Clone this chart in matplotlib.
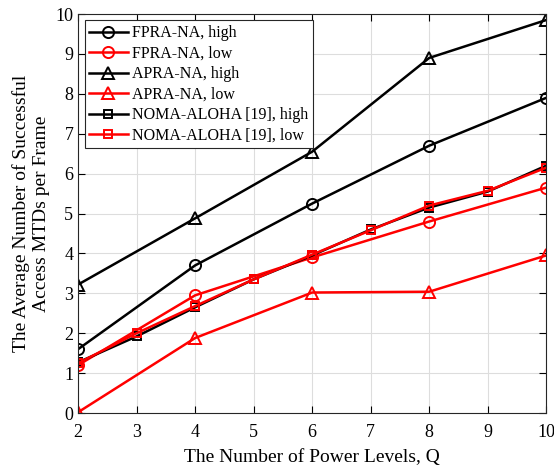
import matplotlib.pyplot as plt

plt.rcParams['font.family'] = ['Liberation Serif', 'DejaVu Serif']

q_even = [2, 4, 6, 8, 10]
q_all = [2, 3, 4, 5, 6, 7, 8, 9, 10]

fpra_high = [1.60, 3.70, 5.25, 6.70, 7.90]
fpra_low = [1.20, 2.95, 3.90, 4.80, 5.65]
apra_high = [3.22, 4.88, 6.55, 8.90, 9.85]
apra_low = [0.02, 1.88, 3.02, 3.04, 3.95]
noma_high = [1.27, 1.92, 2.65, 3.35, 3.95, 4.60, 5.15, 5.55, 6.20]
noma_low = [1.25, 2.00, 2.68, 3.35, 3.97, 4.58, 5.20, 5.57, 6.15]

fig = plt.figure(figsize=(5.54, 4.68), dpi=100)
ax = fig.add_axes([0.141, 0.1175, 0.845, 0.8525])

kw = dict(lw=1.8, ms=8, mfc='none', mew=1.4)
ax.plot(q_even, fpra_high, color='black', marker='o', label='FPRA-NA, high', **kw)
ax.plot(q_even, fpra_low, color='red', marker='o', label='FPRA-NA, low', **kw)
ax.plot(q_even, apra_high, color='black', marker='^', label='APRA-NA, high', **kw)
ax.plot(q_even, apra_low, color='red', marker='^', label='APRA-NA, low', **kw)
ax.plot(q_all, noma_high, color='black', marker='s', label='NOMA-ALOHA [19], high',
        lw=1.8, ms=6, mfc='none', mew=1.4)
ax.plot(q_all, noma_low, color='red', marker='s', label='NOMA-ALOHA [19], low',
        lw=1.8, ms=6, mfc='none', mew=1.4)

ax.set_xlim(2, 10)
ax.set_ylim(0, 10)
ax.set_xticks(q_all)
ax.set_yticks(range(0, 11))
ax.grid(True, color='#dddddd', lw=0.8)
ax.set_axisbelow(True)
ax.tick_params(direction='in', top=True, right=True, labelsize=13, length=5)
ax.tick_params(axis='x', pad=8)
for s in ax.spines.values():
    s.set_color('#262626')
    s.set_linewidth(0.8)

ax.set_xlabel('The Number of Power Levels, Q', fontsize=14, labelpad=6)
ax.set_ylabel('The Average Number of Successful\nAccess MTDs per Frame', fontsize=14)

leg = ax.legend(loc='upper left', fontsize=11.5, fancybox=False, framealpha=1,
                edgecolor='#262626', borderaxespad=0.4, handlelength=2.4,
                labelspacing=0.28, borderpad=0.3, handletextpad=0.25)
leg.get_frame().set_linewidth(0.8)

fig.savefig('out.png', dpi=100)
